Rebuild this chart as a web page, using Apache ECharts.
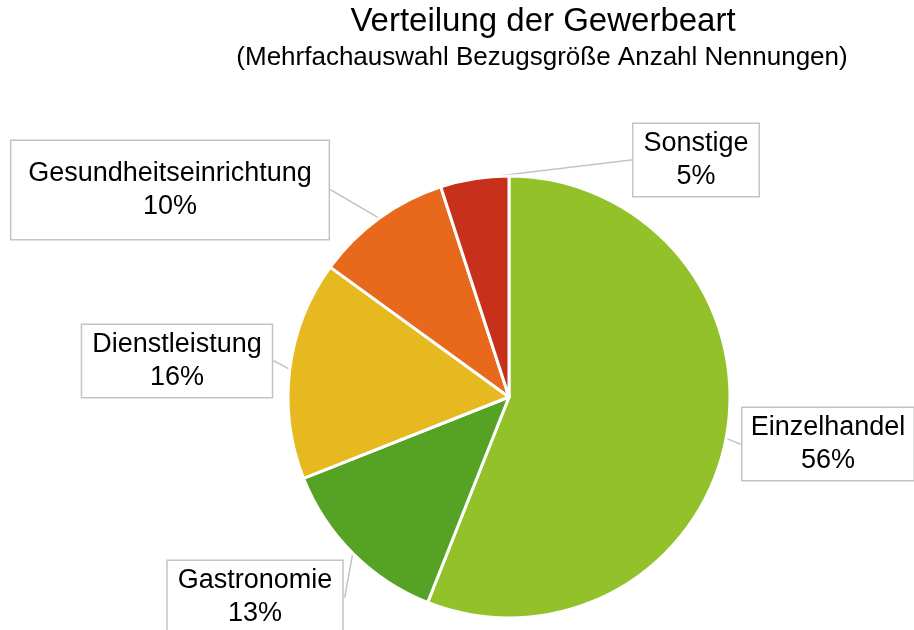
<!DOCTYPE html>
<html>
<head>
<meta charset="utf-8">
<script src="https://cdn.jsdelivr.net/npm/echarts@6/dist/echarts.min.js"></script>
<style>
  html, body { margin: 0; padding: 0; background: #fff; }
  #chart { width: 914px; height: 630px; }
</style>
</head>
<body>
<div id="chart"></div>
<script>
const categories = ['Einzelhandel', 'Gastronomie', 'Dienstleistung', 'Gesundheitseinrichtung', 'Sonstige'];
const shares = [56, 13, 16, 10, 5];

const colors = ['#92c12a', '#55a225', '#e5b91f', '#e8691b', '#c7311b'];
// label box centres (px), same order as categories
const labelPos = [[828, 444], [255, 597], [177, 361], [170, 190], [696, 160]];
const labelPad = [[3, 10], [3, 10], [3, 10], [16, 12], [3, 10]];

const chart = echarts.init(document.getElementById('chart'));

const option = {
  animation: false,
  graphic: [
    {
      type: 'text',
      x: 543, y: 22,
      style: {
        text: 'Verteilung der Gewerbeart',
        font: '33px "Liberation Sans", Arial, sans-serif',
        fill: '#000',
        textAlign: 'center',
        textVerticalAlign: 'middle'
      }
    },
    {
      type: 'text',
      x: 542, y: 58,
      style: {
        text: '(Mehrfachauswahl Bezugsgröße Anzahl Nennungen)',
        font: '26px "Liberation Sans", Arial, sans-serif',
        fill: '#000',
        textAlign: 'center',
        textVerticalAlign: 'middle'
      }
    }
  ],
  series: [
    {
      type: 'pie',
      center: [509, 397],
      radius: 221,
      startAngle: 90,
      clockwise: true,
      itemStyle: {
        borderColor: '#fff',
        borderWidth: 3
      },
      label: {
        show: true,
        position: 'outside',
        formatter: '{b}\n{c}%',
        fontFamily: '"Liberation Sans", Arial, sans-serif',
        fontSize: 27,
        lineHeight: 33,
        color: '#000',
        align: 'center',
        overflow: 'none',
        backgroundColor: '#fff',
        borderColor: '#c4c4c4',
        borderWidth: 1.5
      },
      labelLine: {
        show: true,
        length: 1,
        length2: 1,
        lineStyle: { color: '#c4c4c4', width: 1.5 }
      },
      labelLayout: function (params) {
        const p = labelPos[params.dataIndex];
        return { x: p[0], y: p[1], align: 'center', verticalAlign: 'middle' };
      },
      data: categories.map((name, i) => ({
        name: name,
        value: shares[i],
        itemStyle: { color: colors[i] },
        label: { padding: labelPad[i] }
      }))
    }
  ]
};

chart.setOption(option);
</script>
</body>
</html>
